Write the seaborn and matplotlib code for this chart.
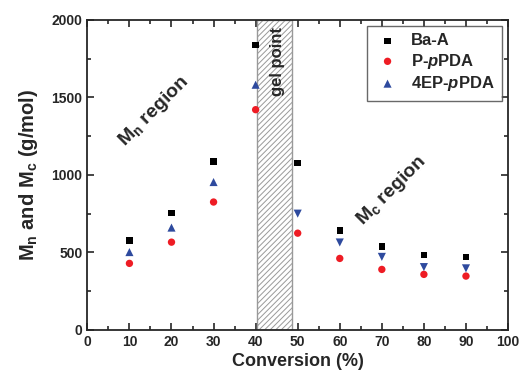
import matplotlib
matplotlib.use("Agg")
import matplotlib.pyplot as plt
import seaborn as sns
import pandas as pd
from matplotlib.ticker import MultipleLocator

sns.set_style("ticks")
plt.rcParams['font.family'] = ['Liberation Sans', 'DejaVu Sans']
plt.rcParams['font.weight'] = 'bold'
plt.rcParams['hatch.color'] = '#777777'
plt.rcParams['hatch.linewidth'] = 0.7
plt.rcParams['mathtext.fontset'] = 'custom'
plt.rcParams['mathtext.rm'] = 'Liberation Sans:bold'
plt.rcParams['mathtext.bf'] = 'Liberation Sans:bold'
plt.rcParams['mathtext.it'] = 'Liberation Sans:bold:italic'
plt.rcParams['mathtext.bfit'] = 'Liberation Sans:bold:italic'

conversion = [10, 20, 30, 40, 50, 60, 70, 80, 90]
ba_a = [577, 754, 1085, 1839, 1076, 641, 538, 482, 471]
p_ppda = [429, 566, 825, 1421, 624, 461, 390, 358, 347]
ep_ppda = [502, 660, 954, 1582, 750, 564, 471, 405, 397]
gel_start, gel_end = 40.4, 48.6

fig = plt.figure(figsize=(5.2, 3.84), dpi=100)
ax = fig.add_axes([0.168, 0.141, 0.809, 0.807])

ax.axvspan(gel_start, gel_end, facecolor='white', edgecolor='#999999', hatch='//////', lw=1.0, zorder=1)

df = pd.DataFrame({'x': conversion, 'ba': ba_a, 'p': p_ppda, 'ep': ep_ppda})
sns.scatterplot(data=df, x='x', y='ba', marker='s', color='black', s=22, edgecolor='none', ax=ax, label='Ba-A', zorder=3)
sns.scatterplot(data=df, x='x', y='p', marker='o', color='#ee1c24', s=28, edgecolor='none', ax=ax, label='P-$\\mathit{p}$PDA', zorder=3)
sns.scatterplot(data=df[df.x <= 40], x='x', y='ep', marker='^', color='#2e4a9e', s=34, edgecolor='none', ax=ax, label='4EP-$\\mathit{p}$PDA', zorder=3)
sns.scatterplot(data=df[df.x >= 50], x='x', y='ep', marker='v', color='#2e4a9e', s=34, edgecolor='none', ax=ax, zorder=3)

ax.set_xlim(0, 100)
ax.set_ylim(0, 2000)
ax.xaxis.set_major_locator(MultipleLocator(10))
ax.xaxis.set_minor_locator(MultipleLocator(5))
ax.yaxis.set_major_locator(MultipleLocator(500))
ax.yaxis.set_minor_locator(MultipleLocator(250))
ax.tick_params(which='both', direction='in', top=True, right=True, width=1.2, labelsize=10)
ax.tick_params(which='major', length=5)
ax.tick_params(which='minor', length=3)
for sp in ax.spines.values():
    sp.set_linewidth(1.3)
    sp.set_visible(True)

ax.set_xlabel('Conversion (%)', fontsize=13, fontweight='bold', labelpad=3)
ax.set_ylabel('M$_\\mathrm{n}$ and M$_\\mathrm{c}$ (g/mol)', fontsize=14.5, fontweight='bold', labelpad=8)

ax.text(15.7, 1410, 'M$_\\mathrm{n}$ region', rotation=45, fontsize=14, fontweight='bold', ha='center', va='center')
ax.text(72.4, 900, 'M$_\\mathrm{c}$ region', rotation=45, fontsize=14, fontweight='bold', ha='center', va='center')
ax.text(45.2, 1730, 'gel point', rotation=90, fontsize=12, fontweight='bold', ha='center', va='center', zorder=4)

leg = ax.legend(loc='upper right', frameon=True, fancybox=False, edgecolor='#444444', fontsize=12,
                handletextpad=0.6, handlelength=1.6, borderpad=0.45, labelspacing=0.2,
                borderaxespad=0, bbox_to_anchor=(0.986, 0.981))
leg.get_frame().set_linewidth(1.0)
for t in leg.get_texts():
    t.set_fontweight('bold')

fig.savefig('out.png', dpi=100)
